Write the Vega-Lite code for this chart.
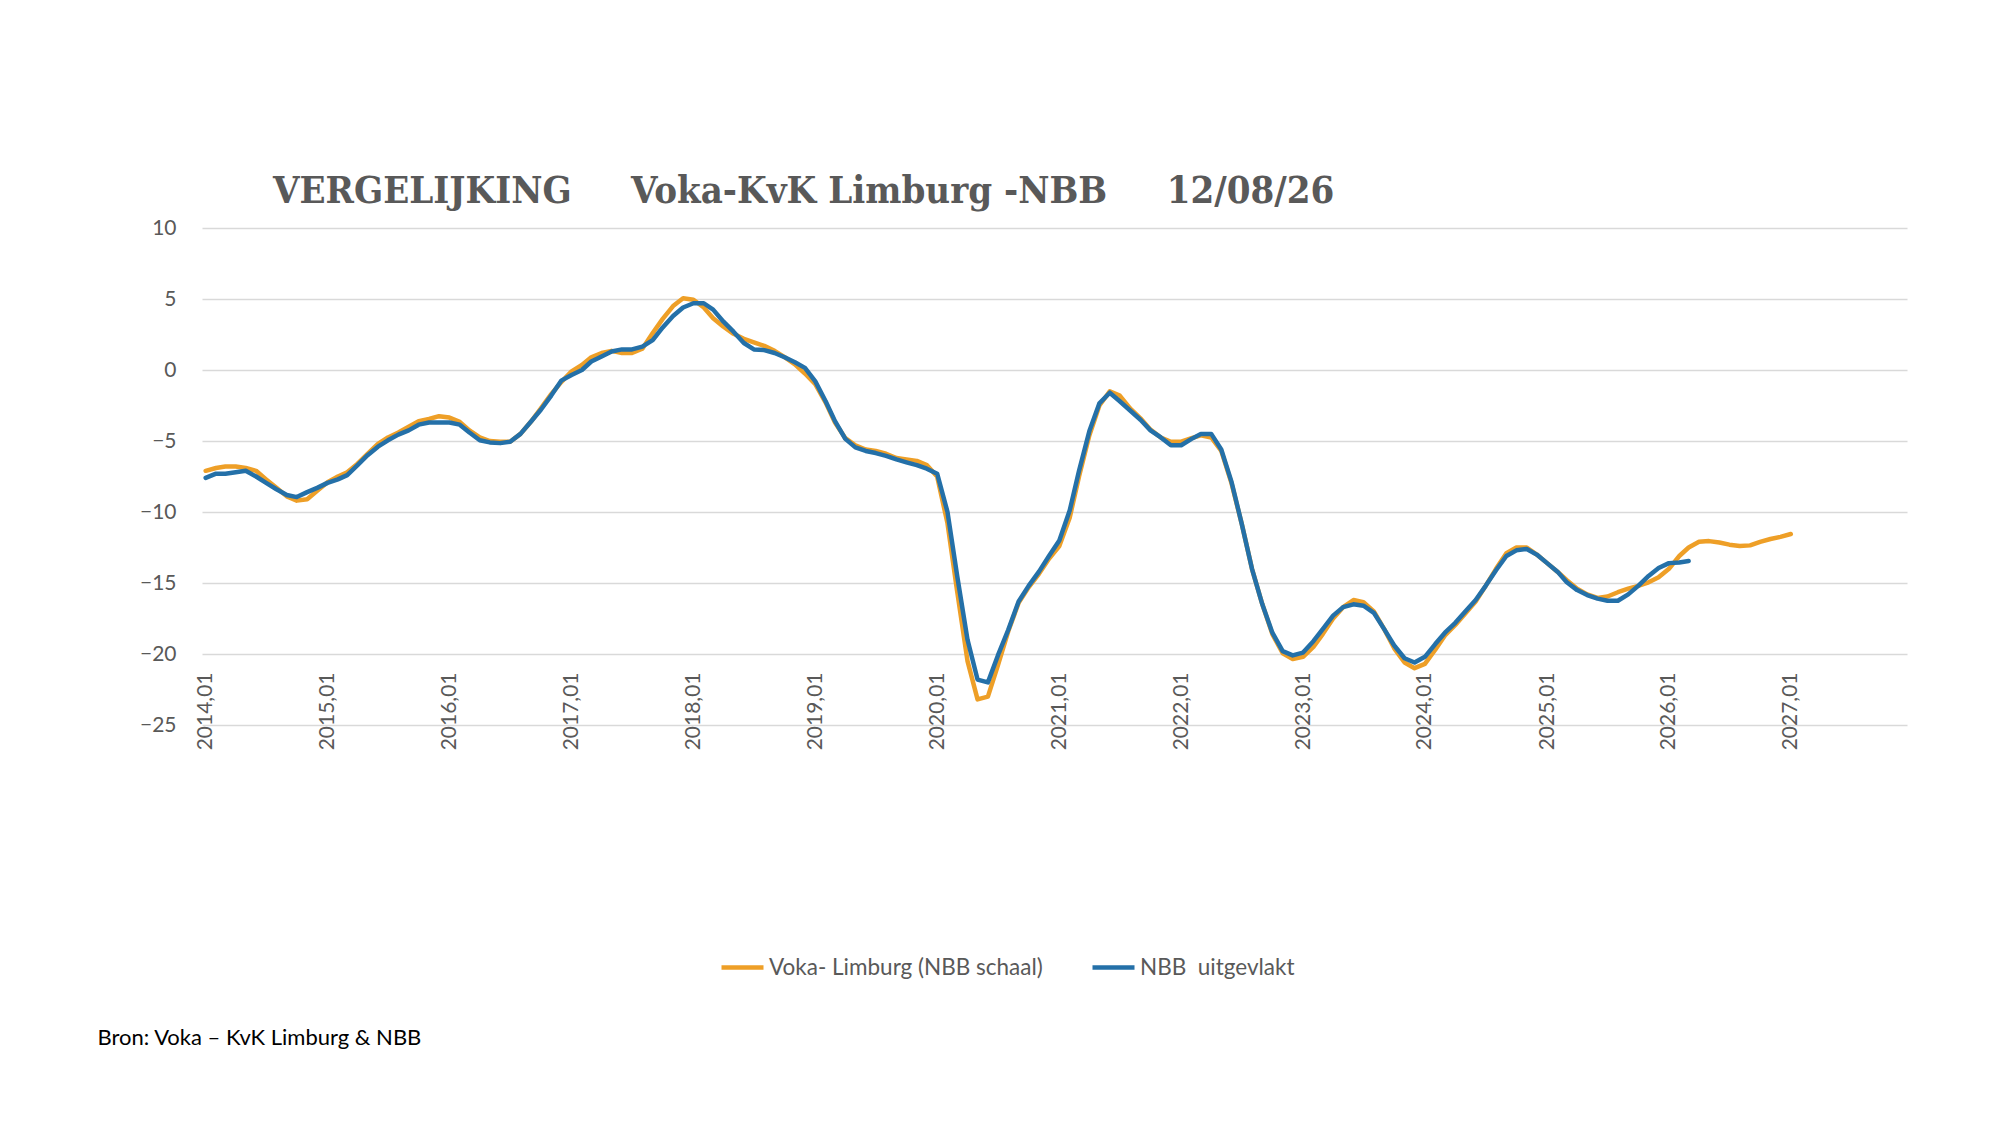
{
  "$schema": "https://vega.github.io/schema/vega-lite/v6.json",
  "description": "Vergelijking Voka-KvK Limburg en NBB, maandelijks 2014-2027.",
  "width": 1705,
  "height": 497,
  "autosize": {"type": "none"},
  "padding": {"left": 202, "top": 228, "right": 93, "bottom": 400},
  "background": "white",
  "title": {
    "text": "VERGELIJKING\u00a0\u00a0\u00a0\u00a0\u00a0Voka-KvK Limburg -NBB\u00a0\u00a0\u00a0\u00a0\u00a012/08/26",
    "anchor": "start",
    "frame": "group",
    "dx": 71,
    "offset": 6,
    "font": "DejaVu Serif Condensed, Liberation Serif, serif",
    "fontSize": 38,
    "fontWeight": "bold",
    "color": "#595959"
  },
  "data": {
    "values": [
      {"d": "2014-01-01", "voka": -7.1, "nbb": -7.6},
      {"d": "2014-02-01", "voka": -6.9, "nbb": -7.3},
      {"d": "2014-03-01", "voka": -6.8, "nbb": -7.3},
      {"d": "2014-04-01", "voka": -6.8, "nbb": -7.2},
      {"d": "2014-05-01", "voka": -6.9, "nbb": -7.1},
      {"d": "2014-06-01", "voka": -7.1, "nbb": -7.5},
      {"d": "2014-07-01", "voka": -7.7, "nbb": -7.95},
      {"d": "2014-08-01", "voka": -8.3, "nbb": -8.4},
      {"d": "2014-09-01", "voka": -8.9, "nbb": -8.8},
      {"d": "2014-10-01", "voka": -9.2, "nbb": -8.95},
      {"d": "2014-11-01", "voka": -9.1, "nbb": -8.6},
      {"d": "2014-12-01", "voka": -8.5, "nbb": -8.3},
      {"d": "2015-01-01", "voka": -7.9, "nbb": -7.95},
      {"d": "2015-02-01", "voka": -7.5, "nbb": -7.7},
      {"d": "2015-03-01", "voka": -7.2, "nbb": -7.4},
      {"d": "2015-04-01", "voka": -6.6, "nbb": -6.7},
      {"d": "2015-05-01", "voka": -5.9, "nbb": -6.0},
      {"d": "2015-06-01", "voka": -5.2, "nbb": -5.4},
      {"d": "2015-07-01", "voka": -4.75, "nbb": -4.95},
      {"d": "2015-08-01", "voka": -4.4, "nbb": -4.55},
      {"d": "2015-09-01", "voka": -4.0, "nbb": -4.25},
      {"d": "2015-10-01", "voka": -3.6, "nbb": -3.85},
      {"d": "2015-11-01", "voka": -3.45, "nbb": -3.7},
      {"d": "2015-12-01", "voka": -3.25, "nbb": -3.7},
      {"d": "2016-01-01", "voka": -3.35, "nbb": -3.7},
      {"d": "2016-02-01", "voka": -3.65, "nbb": -3.85},
      {"d": "2016-03-01", "voka": -4.25, "nbb": -4.4},
      {"d": "2016-04-01", "voka": -4.75, "nbb": -4.95},
      {"d": "2016-05-01", "voka": -5.0, "nbb": -5.1},
      {"d": "2016-06-01", "voka": -5.05, "nbb": -5.15},
      {"d": "2016-07-01", "voka": -5.05, "nbb": -5.05},
      {"d": "2016-08-01", "voka": -4.5, "nbb": -4.5},
      {"d": "2016-09-01", "voka": -3.65, "nbb": -3.65},
      {"d": "2016-10-01", "voka": -2.7, "nbb": -2.8},
      {"d": "2016-11-01", "voka": -1.7, "nbb": -1.8},
      {"d": "2016-12-01", "voka": -0.85, "nbb": -0.75},
      {"d": "2017-01-01", "voka": -0.1, "nbb": -0.35},
      {"d": "2017-02-01", "voka": 0.35, "nbb": 0.0},
      {"d": "2017-03-01", "voka": 0.9, "nbb": 0.6},
      {"d": "2017-04-01", "voka": 1.2, "nbb": 0.95},
      {"d": "2017-05-01", "voka": 1.35, "nbb": 1.3},
      {"d": "2017-06-01", "voka": 1.2, "nbb": 1.45},
      {"d": "2017-07-01", "voka": 1.2, "nbb": 1.45},
      {"d": "2017-08-01", "voka": 1.5, "nbb": 1.65},
      {"d": "2017-09-01", "voka": 2.6, "nbb": 2.1},
      {"d": "2017-10-01", "voka": 3.6, "nbb": 3.0},
      {"d": "2017-11-01", "voka": 4.5, "nbb": 3.8},
      {"d": "2017-12-01", "voka": 5.05, "nbb": 4.4},
      {"d": "2018-01-01", "voka": 4.95, "nbb": 4.7},
      {"d": "2018-02-01", "voka": 4.4, "nbb": 4.7},
      {"d": "2018-03-01", "voka": 3.65, "nbb": 4.25},
      {"d": "2018-04-01", "voka": 3.05, "nbb": 3.4},
      {"d": "2018-05-01", "voka": 2.55, "nbb": 2.7},
      {"d": "2018-06-01", "voka": 2.2, "nbb": 1.9},
      {"d": "2018-07-01", "voka": 1.95, "nbb": 1.45},
      {"d": "2018-08-01", "voka": 1.7, "nbb": 1.4},
      {"d": "2018-09-01", "voka": 1.35, "nbb": 1.2},
      {"d": "2018-10-01", "voka": 0.9, "nbb": 0.9},
      {"d": "2018-11-01", "voka": 0.4, "nbb": 0.55},
      {"d": "2018-12-01", "voka": -0.25, "nbb": 0.15},
      {"d": "2019-01-01", "voka": -1.0, "nbb": -0.8},
      {"d": "2019-02-01", "voka": -2.3, "nbb": -2.2},
      {"d": "2019-03-01", "voka": -3.7, "nbb": -3.6},
      {"d": "2019-04-01", "voka": -4.8, "nbb": -4.85},
      {"d": "2019-05-01", "voka": -5.3, "nbb": -5.45},
      {"d": "2019-06-01", "voka": -5.6, "nbb": -5.7},
      {"d": "2019-07-01", "voka": -5.7, "nbb": -5.85},
      {"d": "2019-08-01", "voka": -5.9, "nbb": -6.05},
      {"d": "2019-09-01", "voka": -6.2, "nbb": -6.3},
      {"d": "2019-10-01", "voka": -6.3, "nbb": -6.5},
      {"d": "2019-11-01", "voka": -6.4, "nbb": -6.7},
      {"d": "2019-12-01", "voka": -6.7, "nbb": -6.95},
      {"d": "2020-01-01", "voka": -7.5, "nbb": -7.3},
      {"d": "2020-02-01", "voka": -10.8, "nbb": -10.0},
      {"d": "2020-03-01", "voka": -15.6, "nbb": -14.5},
      {"d": "2020-04-01", "voka": -20.5, "nbb": -19.0},
      {"d": "2020-05-01", "voka": -23.2, "nbb": -21.8},
      {"d": "2020-06-01", "voka": -23.0, "nbb": -22.0},
      {"d": "2020-07-01", "voka": -20.8, "nbb": -20.1},
      {"d": "2020-08-01", "voka": -18.4, "nbb": -18.3},
      {"d": "2020-09-01", "voka": -16.4, "nbb": -16.3},
      {"d": "2020-10-01", "voka": -15.3, "nbb": -15.2},
      {"d": "2020-11-01", "voka": -14.35, "nbb": -14.2},
      {"d": "2020-12-01", "voka": -13.3, "nbb": -13.1},
      {"d": "2021-01-01", "voka": -12.4, "nbb": -12.0},
      {"d": "2021-02-01", "voka": -10.4, "nbb": -9.9},
      {"d": "2021-03-01", "voka": -7.5, "nbb": -7.1},
      {"d": "2021-04-01", "voka": -4.6, "nbb": -4.3},
      {"d": "2021-05-01", "voka": -2.5, "nbb": -2.35},
      {"d": "2021-06-01", "voka": -1.5, "nbb": -1.6},
      {"d": "2021-07-01", "voka": -1.8, "nbb": -2.2},
      {"d": "2021-08-01", "voka": -2.7, "nbb": -2.85},
      {"d": "2021-09-01", "voka": -3.4, "nbb": -3.5},
      {"d": "2021-10-01", "voka": -4.2, "nbb": -4.25},
      {"d": "2021-11-01", "voka": -4.75, "nbb": -4.75},
      {"d": "2021-12-01", "voka": -5.05, "nbb": -5.3},
      {"d": "2022-01-01", "voka": -5.05, "nbb": -5.3},
      {"d": "2022-02-01", "voka": -4.8, "nbb": -4.85},
      {"d": "2022-03-01", "voka": -4.6, "nbb": -4.5},
      {"d": "2022-04-01", "voka": -4.75, "nbb": -4.5},
      {"d": "2022-05-01", "voka": -5.7, "nbb": -5.6},
      {"d": "2022-06-01", "voka": -8.0, "nbb": -7.9},
      {"d": "2022-07-01", "voka": -10.8, "nbb": -10.8},
      {"d": "2022-08-01", "voka": -14.0, "nbb": -14.0},
      {"d": "2022-09-01", "voka": -16.5, "nbb": -16.5},
      {"d": "2022-10-01", "voka": -18.6, "nbb": -18.5},
      {"d": "2022-11-01", "voka": -19.95, "nbb": -19.8},
      {"d": "2022-12-01", "voka": -20.35, "nbb": -20.1},
      {"d": "2023-01-01", "voka": -20.2, "nbb": -19.9},
      {"d": "2023-02-01", "voka": -19.5, "nbb": -19.1},
      {"d": "2023-03-01", "voka": -18.6, "nbb": -18.25},
      {"d": "2023-04-01", "voka": -17.5, "nbb": -17.3},
      {"d": "2023-05-01", "voka": -16.7, "nbb": -16.7},
      {"d": "2023-06-01", "voka": -16.2, "nbb": -16.5},
      {"d": "2023-07-01", "voka": -16.35, "nbb": -16.6},
      {"d": "2023-08-01", "voka": -17.0, "nbb": -17.1},
      {"d": "2023-09-01", "voka": -18.25, "nbb": -18.25},
      {"d": "2023-10-01", "voka": -19.6, "nbb": -19.4},
      {"d": "2023-11-01", "voka": -20.6, "nbb": -20.3},
      {"d": "2023-12-01", "voka": -21.0, "nbb": -20.6},
      {"d": "2024-01-01", "voka": -20.7, "nbb": -20.2},
      {"d": "2024-02-01", "voka": -19.7, "nbb": -19.3},
      {"d": "2024-03-01", "voka": -18.7, "nbb": -18.5},
      {"d": "2024-04-01", "voka": -17.95, "nbb": -17.8},
      {"d": "2024-05-01", "voka": -17.15, "nbb": -17.0},
      {"d": "2024-06-01", "voka": -16.3, "nbb": -16.2},
      {"d": "2024-07-01", "voka": -15.2, "nbb": -15.2},
      {"d": "2024-08-01", "voka": -14.0, "nbb": -14.1},
      {"d": "2024-09-01", "voka": -12.9, "nbb": -13.1},
      {"d": "2024-10-01", "voka": -12.5, "nbb": -12.7},
      {"d": "2024-11-01", "voka": -12.5, "nbb": -12.6},
      {"d": "2024-12-01", "voka": -13.0, "nbb": -13.0},
      {"d": "2025-01-01", "voka": -13.6, "nbb": -13.6},
      {"d": "2025-02-01", "voka": -14.2, "nbb": -14.2},
      {"d": "2025-03-01", "voka": -14.8, "nbb": -14.95},
      {"d": "2025-04-01", "voka": -15.4, "nbb": -15.5},
      {"d": "2025-05-01", "voka": -15.8, "nbb": -15.85},
      {"d": "2025-06-01", "voka": -16.05, "nbb": -16.1},
      {"d": "2025-07-01", "voka": -15.95, "nbb": -16.25},
      {"d": "2025-08-01", "voka": -15.65, "nbb": -16.25},
      {"d": "2025-09-01", "voka": -15.4, "nbb": -15.8},
      {"d": "2025-10-01", "voka": -15.2, "nbb": -15.2},
      {"d": "2025-11-01", "voka": -14.95, "nbb": -14.5},
      {"d": "2025-12-01", "voka": -14.6, "nbb": -13.95},
      {"d": "2026-01-01", "voka": -14.0, "nbb": -13.6},
      {"d": "2026-02-01", "voka": -13.1, "nbb": -13.55},
      {"d": "2026-03-01", "voka": -12.5, "nbb": -13.45},
      {"d": "2026-04-01", "voka": -12.1},
      {"d": "2026-05-01", "voka": -12.05},
      {"d": "2026-06-01", "voka": -12.15},
      {"d": "2026-07-01", "voka": -12.3},
      {"d": "2026-08-01", "voka": -12.4},
      {"d": "2026-09-01", "voka": -12.35},
      {"d": "2026-10-01", "voka": -12.1},
      {"d": "2026-11-01", "voka": -11.9},
      {"d": "2026-12-01", "voka": -11.75},
      {"d": "2027-01-01", "voka": -11.55}
    ]
  },
  "transform": [
    {"fold": ["voka", "nbb"], "as": ["reeks", "waarde"]},
    {"filter": "isValid(datum.waarde)"}
  ],
  "mark": {"type": "line", "strokeWidth": 4.5, "strokeJoin": "round", "strokeCap": "round"},
  "encoding": {
    "x": {
      "field": "d",
      "type": "temporal",
      "timeUnit": "utcyearmonth",
      "scale": {
        "domain": [
          {"year": 2013, "month": 12, "date": 21, "utc": true},
          {"year": 2027, "month": 12, "date": 15, "utc": true}
        ]
      },
      "axis": {
        "values": [
          {"year": 2014, "month": 1, "date": 1, "utc": true},
          {"year": 2015, "month": 1, "date": 1, "utc": true},
          {"year": 2016, "month": 1, "date": 1, "utc": true},
          {"year": 2017, "month": 1, "date": 1, "utc": true},
          {"year": 2018, "month": 1, "date": 1, "utc": true},
          {"year": 2019, "month": 1, "date": 1, "utc": true},
          {"year": 2020, "month": 1, "date": 1, "utc": true},
          {"year": 2021, "month": 1, "date": 1, "utc": true},
          {"year": 2022, "month": 1, "date": 1, "utc": true},
          {"year": 2023, "month": 1, "date": 1, "utc": true},
          {"year": 2024, "month": 1, "date": 1, "utc": true},
          {"year": 2025, "month": 1, "date": 1, "utc": true},
          {"year": 2026, "month": 1, "date": 1, "utc": true},
          {"year": 2027, "month": 1, "date": 1, "utc": true}
        ],
        "format": "%Y,%m",
        "labelAngle": -90,
        "labelAlign": "right",
        "labelBaseline": "middle",
        "labelPadding": -53,
        "labelFont": "Lato",
        "labelFontSize": 21,
        "labelColor": "#595959",
        "labelOverlap": false,
        "labelFlush": false,
        "grid": false,
        "domain": false,
        "ticks": false,
        "title": "Bron: Voka \u2013 KvK Limburg & NBB",
        "titleX": -105,
        "titleY": 312,
        "titleAlign": "left",
        "titleAnchor": "start",
        "titleBaseline": "middle",
        "titleAngle": 0,
        "titleFont": "Lato",
        "titleFontSize": 22,
        "titleFontWeight": "normal",
        "titleColor": "#000000"
      }
    },
    "y": {
      "field": "waarde",
      "type": "quantitative",
      "scale": {"domain": [-25, 10], "nice": false, "zero": false},
      "axis": {
        "values": [-25, -20, -15, -10, -5, 0, 5, 10],
        "title": null,
        "domain": false,
        "ticks": false,
        "labelPadding": 26,
        "labelFont": "Lato",
        "labelFontSize": 21,
        "labelColor": "#595959",
        "grid": true,
        "gridColor": "#D9D9D9",
        "gridWidth": 1.5
      }
    },
    "color": {
      "field": "reeks",
      "type": "nominal",
      "scale": {"domain": ["voka", "nbb"], "range": ["#EE9F27", "#2470A8"]},
      "legend": {
        "title": null,
        "orient": "none",
        "direction": "horizontal",
        "legendX": 517,
        "legendY": 716,
        "labelExpr": "datum.value == 'voka' ? 'Voka- Limburg (NBB schaal)' : 'NBB\u00a0\u00a0uitgevlakt'",
        "labelLimit": 0,
        "symbolType": "stroke",
        "symbolSize": 1764,
        "symbolStrokeWidth": 4.5,
        "labelOffset": 3,
        "columnPadding": 40,
        "labelFont": "Lato",
        "labelFontSize": 22.5,
        "labelColor": "#595959"
      }
    }
  },
  "config": {
    "view": {"stroke": null}
  }
}
